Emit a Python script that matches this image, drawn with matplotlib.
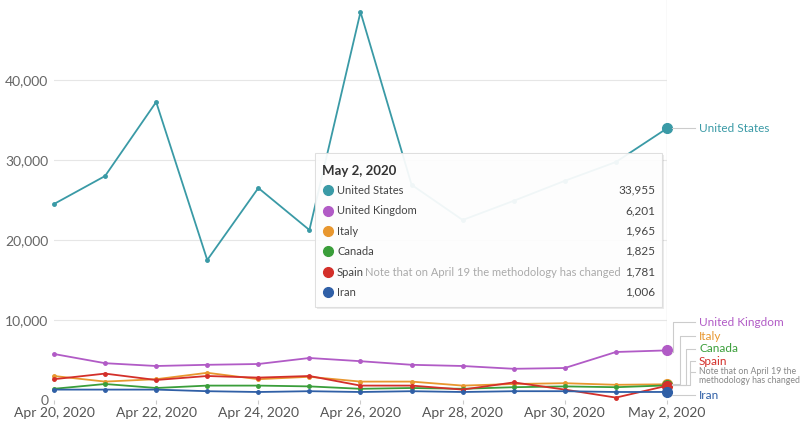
import numpy as np
import pandas as pd
import matplotlib
matplotlib.use('Agg')
import matplotlib.pyplot as plt
from matplotlib.patches import FancyBboxPatch
from matplotlib.lines import Line2D

plt.rcParams['font.family'] = ['Lato', 'DejaVu Sans']

# 数据
dates = pd.date_range('2020-04-20', '2020-05-02', freq='D')
countries = ['United States', 'United Kingdom', 'Italy', 'Canada', 'Spain', 'Iran']
us = [24500, 28000, 37250, 17500, 26500, 21250, 48500, 26900, 22500, 24900, 27400, 29750, 33955]
uk = [5750, 4600, 4250, 4400, 4500, 5250, 4850, 4400, 4250, 3900, 4000, 6000, 6201]
italy = [3000, 2300, 2600, 3400, 2600, 2900, 2300, 2300, 1800, 2000, 2100, 1900, 1965]
canada = [1400, 2000, 1500, 1800, 1800, 1700, 1400, 1500, 1400, 1600, 1700, 1600, 1825]
spain = [2600, 3300, 2500, 3000, 2800, 3000, 1800, 1800, 1300, 2200, 1300, 300, 1781]
iran = [1300, 1300, 1300, 1100, 1000, 1100, 1000, 1100, 1000, 1100, 1100, 1000, 1006]
series = [us, uk, italy, canada, spain, iran]
colors = ['#3a9aa6', '#b15bc6', '#e8972f', '#3a9e3a', '#d32f2a', '#2f5fa6']
yticks = [0, 10000, 20000, 30000, 40000]
xticks = pd.date_range('2020-04-20', '2020-05-02', freq='2D')
tooltip_title = 'May 2, 2020'
spain_note = 'Note that on April 19 the methodology has changed'

W, H = 806, 423
fig = plt.figure(figsize=(W / 100, H / 100), dpi=100)
ax = fig.add_axes([54 / W, 23 / H, (667 - 54) / W, 400 / H])


def fx(x):
    return x / W


def fy(y):
    return 1 - y / H


def fig_line(xs, ys, **kw):
    """在画布像素坐标上画线"""
    fig.lines.append(Line2D([fx(v) for v in xs], [fy(v) for v in ys],
                            transform=fig.transFigure, **kw))


for vals, c in zip(series, colors):
    ax.plot(dates, vals, color=c, lw=1.3, marker='o', ms=2.5, clip_on=False, zorder=3)
    ax.plot(dates[-1], vals[-1], 'o', color=c, ms=7, clip_on=False, zorder=4)

ax.set_xlim(dates[0], dates[-1])
ax.set_ylim(0, 50000)
ax.set_yticks(yticks)
ax.set_yticklabels([f'{v:,}' for v in yticks])
ax.set_xticks(xticks)
ax.set_xticklabels([d.strftime('%b %-d, %Y') for d in xticks])
ax.tick_params(axis='y', length=0, labelsize=10, labelcolor='#666666', pad=4)
ax.tick_params(axis='x', length=3, color='#cccccc', labelsize=10, labelcolor='#555555', pad=2)
ax.grid(axis='y', color='#e6e6e6', lw=0.8)
for s in ax.spines.values():
    s.set_visible(False)
# 悬停竖线
ax.axvline(dates[-1], color='#e3e3e3', lw=1, zorder=1)

# 右侧标签
fig_line([672, 695], [128, 128], color='#cccccc', lw=0.8)
fig.text(fx(699), fy(128), countries[0], color=colors[0], fontsize=8.5, va='center')

label_y = [322, 336, 349, 361]
kink_x = [673, 680, 686, 690]
start_y = [352, 384, 385, 385]
for i in range(4):
    c = colors[i + 1]
    fig_line([672, kink_x[i], kink_x[i], 695],
             [start_y[i], start_y[i], label_y[i], label_y[i]], color='#cccccc', lw=0.8)
    fig.text(fx(699), fy(label_y[i]), countries[i + 1], color=c, fontsize=8.5, va='center')
fig_line([690, 695], [372, 372], color='#cccccc', lw=0.8)
fig.text(fx(699), fy(376), 'Note that on April 19 the\nmethodology has changed',
         color='#888888', fontsize=6.3, va='center', linespacing=0.95)
fig_line([672, 695], [395, 395], color='#cccccc', lw=0.8)
fig.text(fx(699), fy(395), countries[5], color=colors[5], fontsize=8.5, va='center')

# 提示框
shadow = FancyBboxPatch((fx(317), fy(309)), fx(662 - 315), (309 - 155) / H,
                        boxstyle='square,pad=0', transform=fig.transFigure,
                        fc='#000000', ec='none', alpha=0.08, zorder=5)
box = FancyBboxPatch((fx(315), fy(307)), fx(662 - 315), (307 - 153) / H,
                     boxstyle='square,pad=0', transform=fig.transFigure,
                     fc='white', ec='#dddddd', lw=0.8, alpha=0.93, zorder=6)
fig.patches.extend([shadow, box])
fig.text(fx(322), fy(171), tooltip_title, fontsize=9.5, fontweight='bold', color='#333333',
         va='center', zorder=7)
row_y = [190, 211, 231, 251, 272, 292]
for i, name in enumerate(countries):
    fig_line([328], [row_y[i]], marker='o', ms=7, color=colors[i], ls='none', zorder=7)
    fig.text(fx(337), fy(row_y[i]), name, fontsize=8, color='#444444', va='center', zorder=7)
    if name == 'Spain':
        fig.text(fx(365), fy(row_y[i]), spain_note, fontsize=8, color='#aaaaaa',
                 va='center', zorder=7)
    fig.text(fx(655), fy(row_y[i]), f'{series[i][-1]:,}', fontsize=8.5, color='#444444',
             va='center', ha='right', zorder=7)

fig.savefig('out.png', dpi=100)
